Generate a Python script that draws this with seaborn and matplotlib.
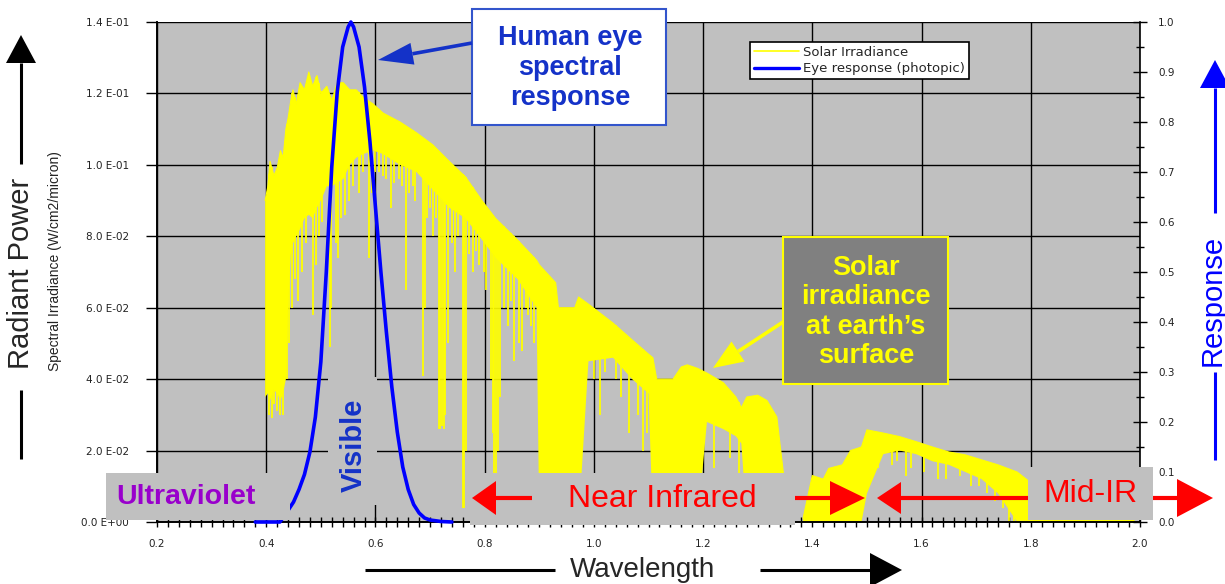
"""
Solar irradiance at the earth's surface vs. the photopic eye response.
"""

import numpy as np
import matplotlib
matplotlib.use("Agg")
import matplotlib.pyplot as plt
from matplotlib.patches import Rectangle, Polygon
from matplotlib.lines import Line2D
from matplotlib.transforms import Affine2D
from matplotlib.ticker import FixedLocator, FixedFormatter, MultipleLocator
import seaborn as sns

# ── data ─────────────────────────────────────────────────────────────
# solar spectrum: upper / lower edge of the dense trace (W/cm2/micron)
spec_wl = [0.398, 0.403, 0.407, 0.414, 0.42, 0.426, 0.431, 0.436, 0.44, 0.445,
           0.449, 0.455, 0.462, 0.47, 0.478, 0.485, 0.493, 0.50, 0.511, 0.52,
           0.53, 0.541, 0.553, 0.565, 0.577, 0.596, 0.614, 0.645,
           0.675, 0.705, 0.735, 0.765, 0.795, 0.82, 0.86, 0.895, 0.90, 0.93,
           0.935, 0.965, 0.972, 0.99, 1.035, 1.07, 1.10, 1.108, 1.115, 1.145,
           1.16, 1.171, 1.19, 1.207, 1.237, 1.26, 1.27, 1.28, 1.30, 1.317,
           1.335, 1.347, 1.352, 1.37, 1.383, 1.40, 1.42, 1.43, 1.455, 1.47,
           1.49, 1.50, 1.53, 1.56, 1.59, 1.62, 1.65, 1.68, 1.71, 1.74, 1.775,
           1.80, 1.81, 1.95, 1.98, 1.99]
spec_hi = [0.090, 0.094, 0.101, 0.097, 0.099, 0.104, 0.102, 0.110, 0.113, 0.118,
           0.121, 0.117, 0.123, 0.121, 0.126, 0.122, 0.125, 0.120, 0.122, 0.118,
           0.123, 0.123, 0.121, 0.121, 0.119, 0.117, 0.1145, 0.112,
           0.109, 0.1056, 0.101, 0.0966, 0.090, 0.085, 0.079, 0.0733, 0.072, 0.067,
           0.060, 0.060, 0.063, 0.061, 0.0557, 0.051, 0.047, 0.046, 0.040, 0.040,
           0.0434, 0.044, 0.043, 0.0417, 0.039, 0.035, 0.032, 0.035, 0.0355, 0.034,
           0.0294, 0.0137, 0.0, np.nan, 0.001, 0.013, 0.012, 0.015, 0.016, 0.020,
           0.021, 0.0258, 0.0249, 0.0239, 0.0225, 0.021, 0.0196, 0.0188, 0.0174, 0.016, 0.014,
           0.011, 0.002, 0.002, 0.003, 0.002]
spec_lo = [0.035, 0.036, 0.034, 0.037, 0.036, 0.034, 0.036, 0.040, 0.060, 0.075,
           0.078, 0.080, 0.082, 0.085, 0.086, 0.085, 0.088, 0.090, 0.094, 0.094,
           0.095, 0.096, 0.100, 0.102, 0.103, 0.104, 0.103, 0.100,
           0.098, 0.093, 0.088, 0.085, 0.079, 0.074, 0.068, 0.060, 0.0, 0.0,
           0.0, 0.0, 0.0, 0.045, 0.046, 0.040, 0.036, 0.0, 0.0, 0.0,
           0.0, 0.0, 0.0, 0.028, 0.026, 0.024, 0.022, 0.0, 0.0, 0.0,
           0.0, 0.0, 0.0, np.nan, 0.0, 0.0, 0.0, 0.0, 0.0, 0.0,
           0.0, 0.008, 0.019, 0.020, 0.019, 0.017, 0.016, 0.014, 0.012, 0.008, 0.0,
           0.0, 0.0, 0.0, 0.0, 0.0]

# deep absorption lines: wavelength and lowest value reached
line_wl = [0.405, 0.41, 0.414, 0.42, 0.425, 0.43, 0.434, 0.438, 0.441, 0.448,
           0.452, 0.458, 0.466, 0.472, 0.486, 0.492, 0.496, 0.503, 0.517, 0.519,
           0.527, 0.531, 0.537, 0.545, 0.551, 0.559, 0.569, 0.578, 0.589, 0.594,
           0.606, 0.613, 0.628, 0.634, 0.643, 0.656, 0.668, 0.687, 0.69, 0.695,
           0.716, 0.719, 0.722, 0.725, 0.728, 0.732, 0.745, 0.760, 0.762, 0.765,
           0.785, 0.798, 0.812, 0.815, 0.818, 0.821, 0.824, 0.828, 0.843, 0.853,
           0.862, 0.868, 0.875, 0.885, 1.012, 1.05, 1.065, 1.09, 1.195, 1.22,
           1.25, 1.265, 1.572, 1.58, 1.605, 1.63, 1.645, 1.67, 1.69, 1.705,
           1.72, 1.735, 1.75, 1.76, 1.77,
           0.572, 0.60, 0.62, 0.648, 0.662, 0.673, 0.70, 0.705, 0.71, 0.74,
           0.752, 0.772, 0.778, 0.79, 0.803, 0.835, 0.848, 0.88, 0.89,
           1.0, 1.02, 1.04, 1.08, 1.098, 1.52, 1.545, 1.555]
line_min = [0.030, 0.029, 0.033, 0.031, 0.030, 0.030, 0.045, 0.040, 0.050, 0.060,
            0.068, 0.062, 0.070, 0.078, 0.058, 0.072, 0.080, 0.084, 0.049, 0.060,
            0.078, 0.074, 0.085, 0.086, 0.090, 0.094, 0.092, 0.098, 0.074, 0.092,
            0.098, 0.097, 0.088, 0.095, 0.096, 0.065, 0.094, 0.041, 0.060, 0.085,
            0.026, 0.026, 0.027, 0.026, 0.030, 0.050, 0.070, 0.004, 0.004, 0.020,
            0.076, 0.070, 0.040, 0.025, 0.012, 0.012, 0.020, 0.035, 0.055, 0.045,
            0.050, 0.048, 0.060, 0.055, 0.030, 0.035, 0.025, 0.020, 0.005, 0.015,
            0.018, 0.008, 0.013, 0.015, 0.014, 0.012, 0.012, 0.013, 0.010, 0.010,
            0.008, 0.006, 0.004, 0.0, 0.0,
            0.100, 0.098, 0.096, 0.094, 0.092, 0.090, 0.088, 0.080, 0.085, 0.078,
            0.080, 0.075, 0.070, 0.072, 0.065, 0.060, 0.062, 0.058, 0.050,
            0.040, 0.042, 0.040, 0.030, 0.025, 0.015, 0.016, 0.017]

# photopic eye response (right axis)
eye_wl = [0.38, 0.425, 0.438, 0.45, 0.46, 0.47, 0.48, 0.49, 0.50, 0.51, 0.52,
          0.53, 0.54, 0.55, 0.555, 0.56, 0.57, 0.58, 0.59, 0.60, 0.61, 0.62,
          0.63, 0.64, 0.65, 0.66, 0.67, 0.68, 0.69, 0.70, 0.72, 0.74]
eye_resp = [0.0, 0.0, 0.02, 0.04, 0.065, 0.095, 0.14, 0.21, 0.32, 0.50, 0.71,
            0.86, 0.95, 0.99, 1.0, 0.99, 0.95, 0.87, 0.76, 0.63, 0.50, 0.38,
            0.27, 0.18, 0.11, 0.065, 0.035, 0.018, 0.008, 0.004, 0.001, 0.0]

x_ticks = [0.2, 0.4, 0.6, 0.8, 1.0, 1.2, 1.4, 1.6, 1.8, 2.0]
x_labels = ["0.2", "0.4", "0.6", "0.8", "1.0", "1.2", "1.4", "1.6", "1.8", "2.0"]
y_ticks = [0.0, 0.02, 0.04, 0.06, 0.08, 0.10, 0.12, 0.14]
y_labels = ["0.0 E+00", "2.0 E-02", "4.0 E-02", "6.0 E-02",
            "8.0 E-02", "1.0 E-01", "1.2 E-01", "1.4 E-01"]
r_ticks = [0.0, 0.1, 0.2, 0.3, 0.4, 0.5, 0.6, 0.7, 0.8, 0.9, 1.0]
r_labels = ["0.0", "0.1", "0.2", "0.3", "0.4", "0.5",
            "0.6", "0.7", "0.8", "0.9", "1.0"]

# ── style ────────────────────────────────────────────────────────────
sns.set_theme(style="white")
plt.rcParams["font.family"] = ["Liberation Sans", "DejaVu Sans"]

W, H = 1225, 584
GRAY = "#c0c0c0"
YELLOW = "#ffff00"
BLUE = "#0000ff"
TXT_BLUE = "#1432c8"
RED = "#ff0000"
PURPLE = "#9900cc"
SMALL = dict(family="DejaVu Sans", size=7.5)

fig = plt.figure(figsize=(W / 100, H / 100), dpi=100, facecolor="white")
# pixel coords with origin at top-left
T = Affine2D().scale(1 / W, -1 / H).translate(0, 1) + fig.transFigure

ax = fig.add_axes([157 / W, 62 / H, 983 / W, 500 / H])
ax.set_facecolor(GRAY)
ax2 = ax.twinx()

# ── spectrum ─────────────────────────────────────────────────────────
wl = np.array(spec_wl)
hi = np.array(spec_hi)
lo = np.array(spec_lo)
ok = ~np.isnan(hi)
ax.fill_between(wl, lo, hi, color=YELLOW, lw=0, zorder=2)
solar_line, = ax.plot(wl, hi, color=YELLOW, lw=0.8, zorder=2)
ax.vlines(line_wl, line_min, np.interp(line_wl, wl[ok], hi[ok]),
          color=YELLOW, lw=1.3, zorder=2)

# ── eye response ─────────────────────────────────────────────────────
sns.lineplot(x=eye_wl, y=eye_resp, ax=ax2, color=BLUE, lw=2.6, sort=False,
             legend=False, clip_on=False, zorder=3)
eye_line = ax2.lines[-1]

# ── axes ─────────────────────────────────────────────────────────────
ax.set_xlim(0.2, 2.0)
ax.set_ylim(0, 0.14)
ax2.set_ylim(0, 1.0)
ax.set_axisbelow(True)

ax.xaxis.set_major_locator(FixedLocator(x_ticks))
ax.xaxis.set_major_formatter(FixedFormatter(x_labels))
ax.xaxis.set_minor_locator(MultipleLocator(0.02))
ax.yaxis.set_major_locator(FixedLocator(y_ticks))
ax.yaxis.set_major_formatter(FixedFormatter(y_labels))
ax2.yaxis.set_major_locator(FixedLocator(r_ticks))
ax2.yaxis.set_major_formatter(FixedFormatter(r_labels))
ax2.yaxis.set_minor_locator(MultipleLocator(0.05))

ax.grid(True, which="major", color="black", lw=1.0)
ax2.grid(False)

ax.tick_params(axis="x", which="both", direction="inout", length=7, width=1,
               color="black", pad=9, labelcolor="#222222", bottom=True)
ax.tick_params(axis="y", which="major", direction="out", length=8, width=1,
               color="black", pad=12, labelcolor="#222222", left=True)
ax2.tick_params(axis="y", which="major", direction="inout", length=10, width=1,
                color="black", pad=8, labelcolor="#222222", right=True)
ax2.tick_params(axis="y", which="minor", direction="inout", length=6, width=1,
                color="black", right=True)
for t in ax.get_xticklabels() + ax.get_yticklabels() + ax2.get_yticklabels():
    t.set_fontproperties(SMALL)

for a in (ax, ax2):
    a.spines["top"].set_visible(False)
    for s in ("left", "bottom", "right"):
        a.spines[s].set_color("black")
        a.spines[s].set_linewidth(1.2)
ax.spines["right"].set_visible(False)

# ── legend ───────────────────────────────────────────────────────────
leg = fig.legend([solar_line, eye_line],
                 ["Solar Irradiance", "Eye response (photopic)"],
                 loc="upper left", bbox_to_anchor=(750, 42), bbox_transform=T,
                 prop=dict(family="DejaVu Sans", size=9.5), frameon=True,
                 fancybox=False, framealpha=1, edgecolor="black",
                 borderpad=0.3, labelspacing=0.25, handlelength=3.4,
                 handletextpad=0.3, borderaxespad=0)
leg.get_frame().set_linewidth(1.2)
leg.legend_handles[1].set_linewidth(2.4)
leg.legend_handles[0].set_linewidth(1.2)


# ── annotation helpers (pixel coords, top-left origin) ───────────────
def box(x0, y0, x1, y1, face, edge=None, lw=0.0):
    fig.add_artist(Rectangle((x0, y0), x1 - x0, y1 - y0, transform=T,
                             facecolor=face, edgecolor=edge or face,
                             linewidth=lw, zorder=5))


def seg(x0, y0, x1, y1, color, lw=2.2):
    fig.add_artist(Line2D([x0, x1], [y0, y1], transform=T, color=color,
                          lw=lw, solid_capstyle="butt", zorder=6))


def arrow(x0, y0, x1, y1, color, lw=2.2, head_len=28, head_w=15):
    d = np.hypot(x1 - x0, y1 - y0)
    ux, uy = (x1 - x0) / d, (y1 - y0) / d
    bx, by = x1 - ux * head_len, y1 - uy * head_len
    seg(x0, y0, bx, by, color, lw)
    px, py = -uy, ux
    tri = [(x1, y1), (bx + px * head_w, by + py * head_w),
           (bx - px * head_w, by - py * head_w)]
    fig.add_artist(Polygon(tri, closed=True, transform=T, facecolor=color,
                           edgecolor=color, lw=0, zorder=6))


def label(x, y, s, **kw):
    fig.text(x, y, s, transform=T, ha="center", va="center", zorder=7, **kw)


# left axis title
arrow(21, 164, 21, 35, "black", lw=2.2, head_len=28, head_w=15)
seg(21, 390, 21, 459, "black")
label(21, 273, "Radiant Power", fontsize=21, rotation=90)
label(55, 261, "Spectral Irradiance (W/cm2/micron)", fontsize=10, rotation=90,
      color="#222222")

# right axis title
arrow(1215, 213, 1215, 60, BLUE, lw=2.2, head_len=28, head_w=15)
seg(1215, 372, 1215, 460, BLUE)
label(1213, 300, "Response", fontsize=21, rotation=90, color=BLUE)

# x axis title
seg(365, 570, 555, 570, "black")
label(642, 570, "Wavelength", fontsize=20)
arrow(760, 570, 902, 570, "black", lw=2.2, head_len=32, head_w=17)

# spectral regions
box(106, 473, 290, 520, GRAY)
label(186, 497, "Ultraviolet", fontsize=20.5, fontweight="bold", color=PURPLE)

box(328, 377, 377, 505, GRAY)
label(354, 445, "Visible", fontsize=21, fontweight="bold", color=TXT_BLUE,
      rotation=90)

box(470, 473, 795, 525, GRAY)
label(662, 499, "Near Infrared", fontsize=23, color=RED)
arrow(532, 498, 472, 498, RED, lw=3, head_len=24, head_w=17)
arrow(795, 498, 865, 498, RED, lw=3, head_len=35, head_w=17)

arrow(1028, 498, 877, 498, RED, lw=3, head_len=24, head_w=16)
box(1028, 467, 1153, 520, GRAY)
label(1090, 494, "Mid-IR", fontsize=23, color=RED)
arrow(1153, 498, 1213, 498, RED, lw=3, head_len=36, head_w=19)

# callouts
box(472, 9, 666, 125, "white", edge="#3355cc", lw=1.5)
label(570, 68, "Human eye\nspectral\nresponse", fontsize=19.5, fontweight="bold",
      color=TXT_BLUE, linespacing=1.2)
arrow(472, 43, 378, 60, "#1432c8", lw=2.6, head_len=35, head_w=11)

box(783, 237, 948, 384, "#808080", edge=YELLOW, lw=1.5)
label(866, 312, "Solar\nirradiance\nat earth\u2019s\nsurface", fontsize=19.5,
      fontweight="bold", color=YELLOW, linespacing=1.18)
arrow(783, 322, 713, 368, YELLOW, lw=2.6, head_len=30, head_w=12)

fig.savefig("out.png", dpi=100, facecolor="white")
